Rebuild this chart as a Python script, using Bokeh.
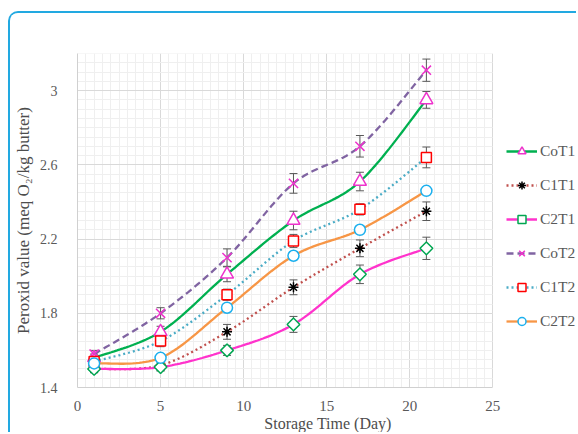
import numpy as np
from bokeh.plotting import figure
from bokeh.models import (Range1d, SingleIntervalTicker, FixedTicker, Legend, LegendItem,
                          Whisker, TeeHead, ColumnDataSource, Label)
from bokeh.embed import file_html
from bokeh.resources import INLINE

# ---------------- data ----------------
days = [1, 5, 9, 13, 17, 21]
series_names = ["CoT1", "C1T1", "C2T1", "CoT2", "C1T2", "C2T2"]
CoT1 = [1.56, 1.70, 2.01, 2.30, 2.51, 2.95]
C1T1 = [1.50, 1.52, 1.70, 1.94, 2.15, 2.35]
C2T1 = [1.50, 1.51, 1.60, 1.74, 2.01, 2.15]
CoT2 = [1.58, 1.80, 2.10, 2.50, 2.70, 3.11]
C1T2 = [1.54, 1.65, 1.90, 2.19, 2.36, 2.64]
C2T2 = [1.53, 1.56, 1.83, 2.11, 2.25, 2.46]
err_CoT1 = [0.02, 0.03, 0.04, 0.05, 0.05, 0.045]
err_C1T1 = [0.02, 0.03, 0.04, 0.04, 0.045, 0.05]
err_C2T1 = [0.02, 0.02, 0.027, 0.043, 0.05, 0.06]
err_CoT2 = [0.02, 0.03, 0.047, 0.053, 0.058, 0.06]
err_C1T2 = [0.02, 0.03, 0.03, 0.035, 0.03, 0.056]
err_C2T2 = [0.01, 0.015, 0.01, 0.01, 0.01, 0.01]
x_min, x_max = 0, 25
y_ticks = [1.4, 1.8, 2.2, 2.6, 3.0]
y_tick_labels = ["1.4", "1.8", "2.2", "2.6", "3"]

values = [CoT1, C1T1, C2T1, CoT2, C1T2, C2T2]
errors = [err_CoT1, err_C1T1, err_C2T1, err_CoT2, err_C1T2, err_C2T2]

# ---------------- styles / layout ----------------
FONT = "Liberation Serif"
line_colors = ["#00b050", "#c0504d", "#ff33cc", "#8064a2", "#4bacc6", "#f79646"]
line_dashes = ["solid", "2 3", "solid", "7 4", "2 3", "solid"]
markers = ["triangle", "asterisk", "square", "x", "square", "circle"]
marker_angles = [0, 0, np.pi / 4, 0, 0, 0]
marker_colors = ["#ee33cc", "#000000", "#00a651", "#ee33cc", "#ff0000", "#1cb0ee"]
marker_sizes = [13, 10, 9, 13, 10, 11]

W, H = 568, 421
BL, BT, BB = 65, 40, 45
PLOT_PX = 417                      # pixel width of the 0..25 plotting area
frame_w = W - BL                   # frame extends to the right edge to host the legend
x_end = x_max * frame_w / PLOT_PX


def smooth(xs, ys, n=24):
    pts = np.column_stack([xs, ys]).astype(float)
    m = len(pts)
    out = []
    for i in range(m - 1):
        p0 = pts[max(i - 1, 0)]
        p1 = pts[i]
        p2 = pts[i + 1]
        p3 = pts[min(i + 2, m - 1)]
        c1 = p1 + (p2 - p0) / 6.0
        c2 = p2 - (p3 - p1) / 6.0
        t = np.linspace(0, 1, n, endpoint=(i == m - 2))[:, None]
        seg = ((1 - t) ** 3) * p1 + 3 * ((1 - t) ** 2) * t * c1 + 3 * (1 - t) * t ** 2 * c2 + t ** 3 * p2
        out.append(seg)
    arr = np.vstack(out)
    return arr[:, 0], arr[:, 1]


p = figure(width=W, height=H, output_backend="svg", toolbar_location=None,
           x_range=Range1d(x_min, x_end), y_range=Range1d(1.4, 3.2),
           min_border_left=BL, min_border_right=0, min_border_top=BT, min_border_bottom=BB,
           background_fill_color="white", border_fill_color="white",
           styles={"margin-top": "11px", "margin-left": "8px",
                   "border-top": "2px solid #22a9e1", "border-left": "2px solid #22a9e1",
                   "border-top-left-radius": "10px", "overflow": "hidden"})
p.outline_line_color = None

# axes
p.xaxis.ticker = SingleIntervalTicker(interval=5, num_minor_ticks=10)
p.xaxis.bounds = (x_min, x_max)
p.yaxis.ticker = FixedTicker(ticks=y_ticks, minor_ticks=list(np.arange(1.4, 3.2001, 0.05)))
p.yaxis.major_label_overrides = {t: l for t, l in zip(y_ticks, y_tick_labels)}
for ax in (p.xaxis, p.yaxis):
    ax.axis_line_color = "#d0d0d0"
    ax.major_tick_line_color = None
    ax.minor_tick_line_color = None
    ax.major_label_text_font = FONT
    ax.major_label_text_color = "#595959"
    ax.axis_label_text_font = FONT
    ax.axis_label_text_font_style = "normal"
    ax.axis_label_text_color = "#4d4d4d"
p.xaxis.axis_label_text_font_size = "16px"
p.yaxis.axis_label_text_font_size = "17px"
p.xaxis.major_label_text_font_size = "15px"
p.yaxis.major_label_text_font_size = "14px"
p.xaxis.major_label_standoff = 7
p.yaxis.major_label_standoff = 14
p.xaxis.axis_label = "Storage Time (Day)"
p.yaxis.axis_label = "Peroxid value (meq O\u2082/kg butter)"
p.xaxis.axis_label_standoff = 1
p.yaxis.axis_label_standoff = 4

for g in (p.xgrid, p.ygrid):
    g.grid_line_color = "#d9d9d9"
    g.minor_grid_line_color = "#efefef"
    g.grid_line_width = 1
p.xgrid.bounds = (x_min, x_max)
p.ygrid.cross_bounds = (x_min, x_max)

# series
items = []
for i, (name, ys, errs) in enumerate(zip(series_names, values, errors)):
    lc, ld = line_colors[i], line_dashes[i]
    mk, ma, mc, ms = markers[i], marker_angles[i], marker_colors[i], marker_sizes[i]
    fill = "white" if mk not in ("asterisk", "x") else None
    sx, sy = smooth(days, ys)
    lr = p.line(sx, sy, line_color=lc, line_width=2.3, line_dash=ld)
    src = ColumnDataSource(dict(x=days, y=ys,
                                upper=[v + e for v, e in zip(ys, errs)],
                                lower=[v - e for v, e in zip(ys, errs)]))
    w = Whisker(base="x", upper="upper", lower="lower", source=src,
                line_color="#595959", line_width=1,
                upper_head=TeeHead(size=8, line_color="#595959", line_width=1),
                lower_head=TeeHead(size=8, line_color="#595959", line_width=1))
    p.add_layout(w)
    mr = p.scatter("x", "y", source=src, marker=mk, angle=ma, size=ms, line_color=mc,
                   fill_color=fill, line_width=1.5)
    items.append(LegendItem(label=name, renderers=[lr, mr]))

legend = Legend(items=items, location=(PLOT_PX + 12, 56), orientation="vertical",
                glyph_width=31, glyph_height=20, label_height=20, spacing=14,
                padding=0, margin=0, label_standoff=3,
                label_text_font=FONT, label_text_font_size="15.5px", label_text_color="#595959",
                border_line_color=None, background_fill_alpha=0)
p.add_layout(legend, "center")

title = Label(x=255, y=356, x_units="screen", y_units="screen", text="Time Vs Peroxide Value Graph",
              text_font=FONT, text_font_size="15.5px", text_color="#595959",
              text_align="center", text_baseline="middle")
p.add_layout(title)

open("out.html", "w").write(file_html(p, INLINE))
